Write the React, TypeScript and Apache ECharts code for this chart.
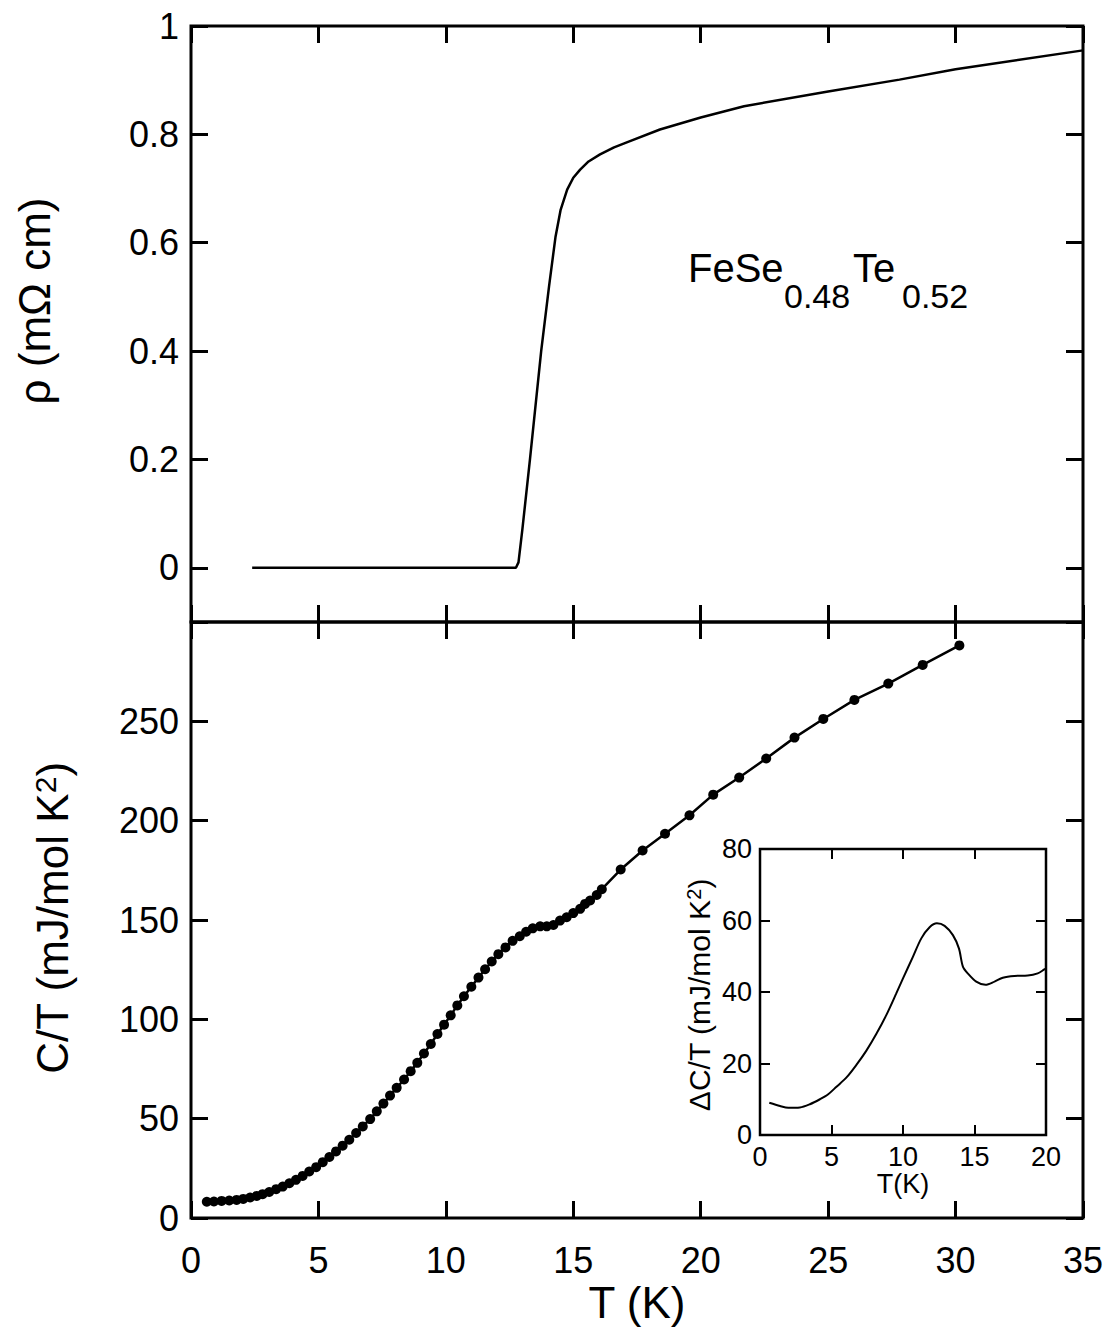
import React, { useEffect, useRef } from "react";
import * as echarts from "echarts";

// Resistivity rho (mOhm cm) vs T (K)
const rhoT = [2.4, 4, 6, 8, 10, 12, 12.75, 12.85, 13.0, 13.3, 13.74, 14.05, 14.3, 14.5, 14.76, 15.0, 15.27, 15.6, 16.05, 16.6, 17.2, 18.4, 20, 21.7, 25, 27.8, 30, 35];
const rhoV = [0, 0, 0, 0, 0, 0, 0, 0.01, 0.07, 0.2, 0.4, 0.52, 0.61, 0.66, 0.698, 0.72, 0.735, 0.75, 0.763, 0.776, 0.787, 0.809, 0.831, 0.852, 0.879, 0.901, 0.92, 0.955];

// Specific heat C/T (mJ/mol K^2) vs T (K)
const cT = [0.62, 0.9, 1.2, 1.5, 1.79, 2.05, 2.32, 2.58, 2.81, 3.07, 3.34, 3.6, 3.86, 4.12, 4.38, 4.64, 4.91, 5.17, 5.43, 5.69, 5.95, 6.21, 6.48, 6.74, 7.03, 7.29, 7.55, 7.81, 8.07, 8.36, 8.62, 8.88, 9.14, 9.41, 9.67, 9.93, 10.19, 10.45, 10.71, 11.0, 11.28, 11.54, 11.8, 12.06, 12.34, 12.62, 12.9, 13.15, 13.41, 13.7, 13.96, 14.22, 14.48, 14.74, 15.0, 15.27, 15.46, 15.66, 15.92, 16.12, 16.86, 17.72, 18.6, 19.56, 20.49, 21.51, 22.57, 23.68, 24.81, 26.03, 27.36, 28.71, 30.15];
const cV = [8.2, 8.3, 8.6, 8.8, 9.1, 9.6, 10.3, 11.1, 12.0, 13.1, 14.5, 15.8, 17.5, 19.2, 21.2, 23.4, 25.6, 28.1, 30.7, 33.5, 36.4, 39.4, 42.8, 46.1, 49.8, 53.7, 57.6, 61.6, 65.5, 69.7, 73.9, 78.1, 82.8, 87.6, 92.6, 97.3, 102, 107, 111.6, 116.4, 121, 125.2, 129.1, 132.8, 136.2, 139.5, 141.8, 144.1, 145.8, 146.8, 146.8, 147.5, 149.7, 151.4, 153.5, 155.6, 158.1, 159.8, 162.6, 165.5, 175.4, 185, 193.4, 202.7, 213.1, 221.7, 231.3, 241.8, 251.2, 260.8, 269.0, 278.4, 288.2];

// Inset: Delta C/T vs T
const dT = [0.65, 1.4, 1.98, 2.79, 3.49, 4.19, 4.77, 5.35, 6.05, 6.74, 7.44, 8.14, 8.84, 9.53, 10.0, 10.7, 11.28, 11.86, 12.37, 12.91, 13.49, 13.91, 14.19, 14.53, 15.12, 15.77, 16.4, 16.98, 17.79, 18.72, 19.42, 19.88, 20];
const dV = [9.0, 8.1, 7.6, 7.7, 8.6, 10.0, 11.4, 13.5, 16.1, 19.6, 23.6, 28.3, 33.6, 39.6, 43.8, 49.9, 55.0, 58.1, 59.2, 58.5, 55.9, 52.2, 47.1, 45.2, 42.9, 42.0, 42.9, 44.0, 44.5, 44.6, 45.2, 46.3, 46.6];

const rhoTicks = [0, 0.2, 0.4, 0.6, 0.8, 1];
const cTicks = [0, 50, 100, 150, 200, 250];

const FONT = "Liberation Sans, Arial, sans-serif";

export default function App() {
  const ref = useRef<HTMLDivElement>(null);
  useEffect(() => {
    document.body.style.margin = "0";
    const chart = echarts.init(ref.current!, null, { renderer: "svg" });
    const mainTick = { show: true, inside: true, length: 17, lineStyle: { color: "#000", width: 3 } };
    const insetTick = { show: true, inside: true, length: 10, lineStyle: { color: "#000", width: 2 } };
    const noLine = { show: false, onZero: false };
    const mainLabel = { fontSize: 36, color: "#000", fontFamily: FONT };
    const insetLabel = { fontSize: 27, color: "#000", fontFamily: FONT };
    const xMain = (grid: number, pos: string, labels: boolean) => ({
      type: "value", gridIndex: grid, position: pos, min: 0, max: 35, interval: 5,
      axisLine: noLine, axisTick: mainTick, splitLine: { show: false },
      axisLabel: labels ? { ...mainLabel, margin: 24 } : { show: false },
    });
    const xInset = (pos: string, labels: boolean) => ({
      type: "value", gridIndex: 2, position: pos, min: 0, max: 20, interval: 5,
      axisLine: noLine, axisTick: insetTick, splitLine: { show: false },
      axisLabel: labels ? { ...insetLabel, margin: 8 } : { show: false },
    });
    const option: any = {
      animation: false,
      backgroundColor: "#fff",
      grid: [
        { left: 191, top: 26, width: 892, height: 596, show: true, borderColor: "#000", borderWidth: 3, backgroundColor: "transparent" },
        { left: 191, top: 622, width: 892, height: 596, show: true, borderColor: "#000", borderWidth: 3, backgroundColor: "transparent" },
        { left: 760, top: 849, width: 286, height: 286, show: true, borderColor: "#000", borderWidth: 2.5, backgroundColor: "#fff" },
      ],
      xAxis: [
        xMain(0, "bottom", false),
        xMain(0, "top", false),
        xMain(1, "bottom", true),
        xMain(1, "top", false),
        xInset("bottom", true),
        xInset("top", false),
      ],
      yAxis: [
        {
          type: "value", gridIndex: 0, position: "left", min: -0.1, max: 1,
          axisLine: noLine, axisTick: { ...mainTick, customValues: rhoTicks }, splitLine: { show: false },
          axisLabel: { ...mainLabel, margin: 12, customValues: rhoTicks },
        },
        {
          type: "value", gridIndex: 0, position: "right", min: -0.1, max: 1,
          axisLine: noLine, axisTick: { ...mainTick, customValues: rhoTicks }, splitLine: { show: false },
          axisLabel: { show: false },
        },
        {
          type: "value", gridIndex: 1, position: "left", min: 0, max: 300, interval: 50,
          axisLine: noLine, axisTick: mainTick, splitLine: { show: false },
          axisLabel: { ...mainLabel, margin: 12, customValues: cTicks },
        },
        {
          type: "value", gridIndex: 1, position: "right", min: 0, max: 300, interval: 50,
          axisLine: noLine, axisTick: mainTick, splitLine: { show: false },
          axisLabel: { show: false },
        },
        {
          type: "value", gridIndex: 2, position: "left", min: 0, max: 80, interval: 20,
          axisLine: noLine, axisTick: insetTick, splitLine: { show: false },
          axisLabel: { ...insetLabel, margin: 8 },
        },
        {
          type: "value", gridIndex: 2, position: "right", min: 0, max: 80, interval: 20,
          axisLine: noLine, axisTick: insetTick, splitLine: { show: false },
          axisLabel: { show: false },
        },
      ],
      series: [
        {
          type: "line", xAxisIndex: 0, yAxisIndex: 0, showSymbol: false,
          data: rhoT.map((t, i) => [t, rhoV[i]]),
          lineStyle: { color: "#000", width: 2.5 }, itemStyle: { color: "#000" },
        },
        {
          type: "line", xAxisIndex: 2, yAxisIndex: 2, symbol: "circle", symbolSize: 10, showAllSymbol: true,
          data: cT.map((t, i) => [t, cV[i]]),
          lineStyle: { color: "#000", width: 2.5 }, itemStyle: { color: "#000" },
        },
        {
          type: "line", xAxisIndex: 4, yAxisIndex: 4, showSymbol: false, smooth: 0.3,
          data: dT.map((t, i) => [t, dV[i]]),
          lineStyle: { color: "#000", width: 2 }, itemStyle: { color: "#000" }, z: 20,
        },
      ],
      graphic: [
        {
          type: "text", x: 34, y: 301, rotation: Math.PI / 2,
          style: { text: "ρ (mΩ cm)", fontSize: 44, fontFamily: FONT, fill: "#000", align: "center", verticalAlign: "middle" },
        },
        {
          type: "text", x: 52, y: 918, rotation: Math.PI / 2,
          style: {
            text: "{n|C/T (mJ/mol K}{s|2}{n|)}", fontFamily: FONT, fill: "#000", align: "center", verticalAlign: "middle",
            rich: { n: { fontSize: 44, fontFamily: FONT, verticalAlign: "bottom" }, s: { fontSize: 30, fontFamily: FONT, verticalAlign: "top" } },
          },
        },
        {
          type: "text", x: 637, y: 1302,
          style: { text: "T (K)", fontSize: 44, fontFamily: FONT, fill: "#000", align: "center", verticalAlign: "middle" },
        },
        { type: "text", x: 688, y: 268, style: { text: "FeSe", fontSize: 40, fontFamily: FONT, fill: "#000", align: "left", verticalAlign: "middle" } },
        { type: "text", x: 784, y: 296, style: { text: "0.48", fontSize: 34, fontFamily: FONT, fill: "#000", align: "left", verticalAlign: "middle" } },
        { type: "text", x: 853, y: 268, style: { text: "Te", fontSize: 40, fontFamily: FONT, fill: "#000", align: "left", verticalAlign: "middle" } },
        { type: "text", x: 902, y: 296, style: { text: "0.52", fontSize: 34, fontFamily: FONT, fill: "#000", align: "left", verticalAlign: "middle" } },
        {
          type: "text", x: 903, y: 1184,
          style: { text: "T(K)", fontSize: 27, fontFamily: FONT, fill: "#000", align: "center", verticalAlign: "middle" },
        },
        {
          type: "text", x: 699, y: 995, rotation: Math.PI / 2,
          style: {
            text: "{n|ΔC/T (mJ/mol K}{s|2}{n|)}", fontFamily: FONT, fill: "#000", align: "center", verticalAlign: "middle",
            rich: { n: { fontSize: 30, fontFamily: FONT, verticalAlign: "bottom" }, s: { fontSize: 20, fontFamily: FONT, verticalAlign: "top" } },
          },
        },
      ],
    };
    chart.setOption(option);
    return () => chart.dispose();
  }, []);
  return <div ref={ref} style={{ width: 1110, height: 1334 }} />;
}
